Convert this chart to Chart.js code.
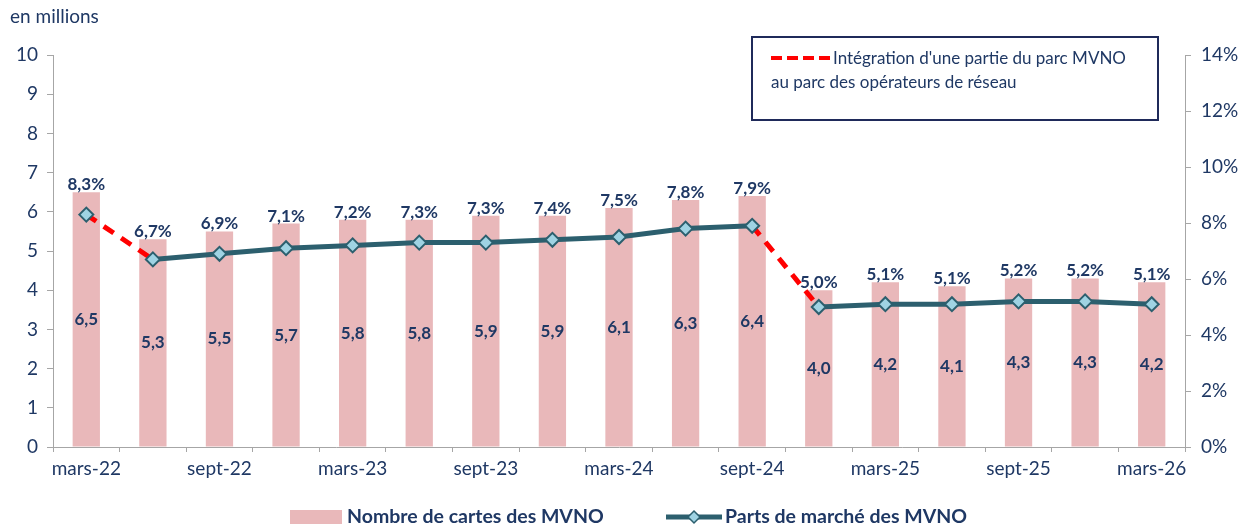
<!DOCTYPE html>
<html>
<head>
<meta charset="utf-8">
<script src="https://cdn.jsdelivr.net/npm/chart.js@4"></script>
<style>
  html, body { margin: 0; padding: 0; background: #fff; }
  #wrap { width: 1252px; height: 529px; position: relative; }
</style>
</head>
<body>
<div id="wrap"><canvas id="mvnoChart" width="1252" height="529"></canvas></div>
<script>
// Quarters (only every other one gets a label on the axis)
const quarters = ['mars-22', 'juin-22', 'sept-22', 'déc-22', 'mars-23', 'juin-23', 'sept-23', 'déc-23',
  'mars-24', 'juin-24', 'sept-24', 'déc-24', 'mars-25', 'juin-25', 'sept-25', 'déc-25', 'mars-26'];

// Nombre de cartes des MVNO (millions)
const cartes = [6.5, 5.3, 5.5, 5.7, 5.8, 5.8, 5.9, 5.9, 6.1, 6.3, 6.4, 4.0, 4.2, 4.1, 4.3, 4.3, 4.2];

// Parts de marché des MVNO (%)
const parts = [8.3, 6.7, 6.9, 7.1, 7.2, 7.3, 7.3, 7.4, 7.5, 7.8, 7.9, 5.0, 5.1, 5.1, 5.2, 5.2, 5.1];

// segments drawn as red dashes (start index)
const dashedFrom = [0, 10];

const NAVY = '#1f3864';
const TEAL = '#2c5f6e';
const PINK = '#e9b8ba';
const AXIS = '#a6a6a6';
const FONT = "Lato, 'Open Sans', sans-serif";

const fmt = (v, d) => v.toFixed(d).replace('.', ',');

// value labels + annotation box + bottom legend
const decorations = {
  id: 'decorations',
  afterDatasetsDraw(chart) {
    const ctx = chart.ctx;
    const barMeta = chart.getDatasetMeta(1);
    ctx.save();
    ctx.fillStyle = NAVY;
    ctx.textAlign = 'center';
    ctx.font = `bold 17px ${FONT}`;
    barMeta.data.forEach((bar, i) => {
      const mid = (bar.y + bar.base) / 2;
      ctx.textBaseline = 'middle';
      ctx.fillText(fmt(cartes[i], 1), bar.x, mid);
      ctx.textBaseline = 'alphabetic';
      ctx.fillText(fmt(parts[i], 1) + '%', bar.x, bar.y - 2);
    });
    ctx.restore();
  },
  afterDraw(chart) {
    const ctx = chart.ctx;
    ctx.save();

    // unit label
    ctx.fillStyle = NAVY;
    ctx.font = `19px ${FONT}`;
    ctx.textAlign = 'left';
    ctx.textBaseline = 'middle';
    ctx.fillText('en millions', 10, 17);

    // annotation box
    ctx.strokeStyle = '#1f2a5a';
    ctx.lineWidth = 2;
    ctx.strokeRect(752, 37, 406, 83);
    ctx.strokeStyle = '#ff0000';
    ctx.lineWidth = 4;
    ctx.setLineDash([11, 5]);
    ctx.beginPath();
    ctx.moveTo(771, 58);
    ctx.lineTo(831, 58);
    ctx.stroke();
    ctx.setLineDash([]);
    ctx.font = `17px ${FONT}`;
    ctx.fillText("Intégration d'une partie du parc MVNO", 833, 59);
    ctx.fillText('au parc des opérateurs de réseau', 771, 83);

    // bottom legend
    const ly = 517;
    ctx.fillStyle = PINK;
    ctx.fillRect(290, ly - 7, 52, 14);
    ctx.fillStyle = NAVY;
    ctx.font = `bold 19.5px ${FONT}`;
    ctx.fillText('Nombre de cartes des MVNO', 347, ly);

    ctx.strokeStyle = TEAL;
    ctx.lineWidth = 5;
    ctx.beginPath();
    ctx.moveTo(666, ly);
    ctx.lineTo(722, ly);
    ctx.stroke();
    ctx.fillStyle = '#9fd3e3';
    ctx.lineWidth = 1.5;
    ctx.beginPath();
    ctx.moveTo(694, ly - 6);
    ctx.lineTo(700, ly);
    ctx.lineTo(694, ly + 6);
    ctx.lineTo(688, ly);
    ctx.closePath();
    ctx.fill();
    ctx.stroke();
    ctx.fillStyle = NAVY;
    ctx.fillText('Parts de marché des MVNO', 725, ly);

    ctx.restore();
  }
};

const ctx = document.getElementById('mvnoChart').getContext('2d');
new Chart(ctx, {
  type: 'bar',
  data: {
    labels: quarters,
    datasets: [
      {
        type: 'line',
        label: 'Parts de marché des MVNO',
        data: parts,
        yAxisID: 'y1',
        order: 0,
        borderColor: TEAL,
        borderWidth: 5,
        pointStyle: 'rectRot',
        pointRadius: 7,
        pointBorderWidth: 2,
        pointBackgroundColor: '#9fd3e3',
        pointBorderColor: TEAL,
        tension: 0,
        segment: {
          borderColor: c => dashedFrom.includes(c.p0DataIndex) ? '#ff0000' : undefined,
          borderDash: c => dashedFrom.includes(c.p0DataIndex) ? [12, 9] : undefined
        }
      },
      {
        type: 'bar',
        label: 'Nombre de cartes des MVNO',
        data: cartes,
        yAxisID: 'y',
        order: 1,
        backgroundColor: PINK,
        categoryPercentage: 1,
        barPercentage: 0.41
      }
    ]
  },
  options: {
    responsive: false,
    animation: false,
    layout: { padding: { top: 55, right: 0, bottom: 0, left: 0 } },
    plugins: {
      legend: { display: false },
      tooltip: { enabled: false }
    },
    scales: {
      x: {
        offset: true,
        grid: { offset: true, drawOnChartArea: false, tickLength: 5, color: AXIS },
        border: { color: AXIS, width: 1 },
        ticks: {
          autoSkip: false,
          maxRotation: 0,
          color: NAVY,
          font: { family: FONT, size: 19 },
          padding: 5,
          callback: (v, i) => i % 2 === 0 ? quarters[i] : ''
        },
        afterFit: s => { s.height = 82; }
      },
      y: {
        position: 'left',
        min: 0,
        max: 10,
        ticks: { stepSize: 1, color: NAVY, font: { family: FONT, size: 19 }, padding: 9 },
        grid: { drawOnChartArea: false, tickLength: 6, color: AXIS },
        border: { color: AXIS, width: 1 },
        afterFit: s => { s.width = 53; }
      },
      y1: {
        position: 'right',
        min: 0,
        max: 14,
        ticks: { stepSize: 2, color: NAVY, font: { family: FONT, size: 19 }, padding: 10,
          callback: v => v + '%' },
        grid: { drawOnChartArea: false, tickLength: 6, color: AXIS },
        border: { color: AXIS, width: 1 },
        afterFit: s => { s.width = 67; }
      }
    }
  },
  plugins: [decorations]
});
</script>
</body>
</html>
